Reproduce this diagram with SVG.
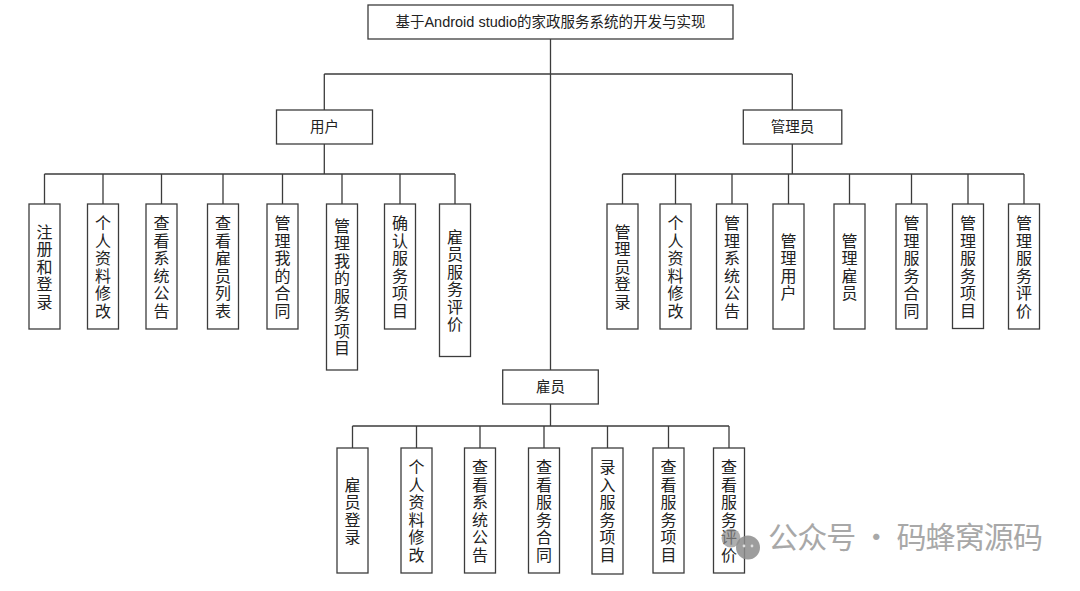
<svg xmlns="http://www.w3.org/2000/svg" width="1080" height="591" viewBox="0 0 1080 591">
<style>
.box{fill:#fff;stroke:#3c3c3c;stroke-width:1.3}
.ln{fill:none;stroke:#3c3c3c;stroke-width:1.3}
.t{font-family:"Liberation Sans","Noto Sans CJK SC",sans-serif;font-size:14.5px;fill:#222;text-anchor:middle;dominant-baseline:central}
.v{font-family:"Noto Sans CJK SC",sans-serif;font-size:16px;fill:#222;text-anchor:middle;writing-mode:vertical-rl;text-orientation:upright;letter-spacing:1.5px}
.wm{font-family:"Noto Sans CJK SC",sans-serif;font-size:30px;fill:#a8a8a8}
</style>
<rect width="1080" height="591" fill="#fff"/>
<g id="connectors">
<path class="ln" d="M550.5 39V370M324.3 74H792.3M324.3 74V110M792.3 74V110"/>
<path class="ln" d="M324.3 144V174M44.5 174H455M44.5 174V204M103 174V204M161.5 174V204M223 174V204M282.5 174V204M342 174V204M400 174V204M455 174V204"/>
<path class="ln" d="M792.3 144V174M622.5 174H1024M622.5 174V204M675.5 174V204M732 174V204M788.5 174V204M849.5 174V204M911.5 174V204M968 174V204M1024 174V204"/>
<path class="ln" d="M550.5 404V426M352.5 426H729M352.5 426V448M416.5 426V448M480 426V448M544 426V448M607.5 426V448M668.5 426V448M729 426V448"/>
</g>
<g id="root"><rect class="box" x="368" y="5" width="365" height="34"/><text class="t" x="550.5" y="22">基于Android studio的家政服务系统的开发与实现</text></g>
<g id="user"><rect class="box" x="276.5" y="110" width="96" height="34"/><text class="t" x="324.5" y="127">用户</text></g>
<g id="admin"><rect class="box" x="743.3" y="110" width="98.5" height="34"/><text class="t" x="792.5" y="127">管理员</text></g>
<g id="employee"><rect class="box" x="502.7" y="370" width="95.6" height="34"/><text class="t" x="550.5" y="387">雇员</text></g>

<g id="u1"><rect class="box" x="29" y="204" width="31" height="125"/><text class="v" x="44.5" y="267.5">注册和登录</text></g>
<g id="u2"><rect class="box" x="87.5" y="204" width="31" height="125"/><text class="v" x="103" y="267.5">个人资料修改</text></g>
<g id="u3"><rect class="box" x="146" y="204" width="31" height="125"/><text class="v" x="161.5" y="267.5">查看系统公告</text></g>
<g id="u4"><rect class="box" x="207.5" y="204" width="31" height="125"/><text class="v" x="223" y="267.5">查看雇员列表</text></g>
<g id="u5"><rect class="box" x="267" y="204" width="31" height="125"/><text class="v" x="282.5" y="267.5">管理我的合同</text></g>
<g id="u6"><rect class="box" x="326.5" y="204" width="31" height="166"/><text class="v" x="342" y="287.8">管理我的服务项目</text></g>
<g id="u7"><rect class="box" x="384.5" y="204" width="31" height="125"/><text class="v" x="400" y="267.5">确认服务项目</text></g>
<g id="u8"><rect class="box" x="439.5" y="204" width="31" height="152.5"/><text class="v" x="455" y="281">雇员服务评价</text></g>

<g id="a1"><rect class="box" x="607" y="204" width="31" height="125"/><text class="v" x="622.5" y="267.5">管理员登录</text></g>
<g id="a2"><rect class="box" x="660" y="204" width="31" height="125"/><text class="v" x="675.5" y="267.5">个人资料修改</text></g>
<g id="a3"><rect class="box" x="716.5" y="204" width="31" height="125"/><text class="v" x="732" y="267.5">管理系统公告</text></g>
<g id="a4"><rect class="box" x="773" y="204" width="31" height="125"/><text class="v" x="788.5" y="267.5">管理用户</text></g>
<g id="a5"><rect class="box" x="834" y="204" width="31" height="125"/><text class="v" x="849.5" y="267.5">管理雇员</text></g>
<g id="a6"><rect class="box" x="896" y="204" width="31" height="125"/><text class="v" x="911.5" y="267.5">管理服务合同</text></g>
<g id="a7"><rect class="box" x="952.5" y="204" width="31" height="124.5"/><text class="v" x="968" y="267.5">管理服务项目</text></g>
<g id="a8"><rect class="box" x="1008.5" y="204" width="31" height="125"/><text class="v" x="1024" y="267.5">管理服务评价</text></g>

<g id="e1"><rect class="box" x="337" y="448" width="31" height="125"/><text class="v" x="352.5" y="511.5">雇员登录</text></g>
<g id="e2"><rect class="box" x="401" y="448" width="31" height="125"/><text class="v" x="416.5" y="511.5">个人资料修改</text></g>
<g id="e3"><rect class="box" x="464.5" y="448" width="31" height="125"/><text class="v" x="480" y="511.5">查看系统公告</text></g>
<g id="e4"><rect class="box" x="528.5" y="448" width="31" height="125"/><text class="v" x="544" y="511.5">查看服务合同</text></g>
<g id="e5"><rect class="box" x="592" y="448" width="31" height="126"/><text class="v" x="607.5" y="511.5">录入服务项目</text></g>
<g id="e6"><rect class="box" x="653" y="448" width="31" height="125"/><text class="v" x="668.5" y="511.5">查看服务项目</text></g>
<g id="e7"><rect class="box" x="713.5" y="448" width="31" height="125"/><text class="v" x="729" y="511.5">查看服务评价</text></g>

<g id="watermark">
<circle cx="731" cy="538" r="9.5" fill="#8c8c8c" opacity="0.7"/>
<circle cx="748" cy="547.5" r="12" fill="#8c8c8c" opacity="0.85"/>
<circle cx="744" cy="546" r="1.4" fill="#e0e0e0"/>
<circle cx="752" cy="546" r="1.4" fill="#e0e0e0"/>
<text class="wm" x="768" y="548" textLength="275" lengthAdjust="spacing">公众号 · 码蜂窝源码</text>
</g>
</svg>
